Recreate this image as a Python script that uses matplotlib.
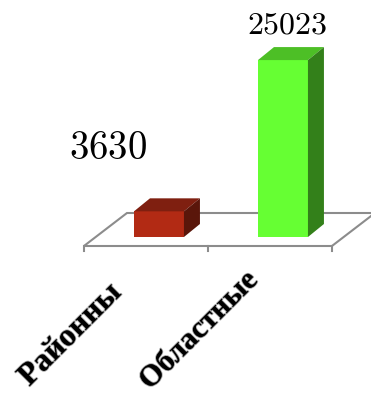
import matplotlib.pyplot as plt
from matplotlib.patches import Polygon
import matplotlib.patheffects as pe

categories = ['Районны', 'Областные']
values = [3630, 25023]
front_colors = ['#b22a14', '#66ff33']
top_colors = ['#7f1f10', '#4dbf26']
side_colors = ['#5a160a', '#33801a']

plt.rcParams['mathtext.fontset'] = 'cm'

fig = plt.figure(figsize=(3.71, 3.97), dpi=100)
ax = fig.add_axes([0, 0, 1, 1])
ax.set_xlim(-1.282, 1.710)
ax.set_ylim(-22631, 33522)
ax.axis('off')

# 3d-ish offsets in data units
bw = 0.403
bdx, bdy = 0.129, 1840      # bar depth
fdx, fdy = 0.347, 4668      # floor depth
f0 = -1273                  # floor front edge
fl, fr = -0.605, 1.395

floor = Polygon([(fl, f0), (fr, f0), (fr + fdx, f0 + fdy), (fl + fdx, f0 + fdy)],
                closed=True, facecolor='white', edgecolor='#8c8c8c', lw=1.5, zorder=1)
ax.add_patch(floor)
for tx in [fl, (fl + fr) / 2, fr]:
    ax.plot([tx, tx], [f0, f0 - 707], color='#8c8c8c', lw=1.5, zorder=1)

bars = ax.bar(range(len(values)), values, width=bw, color=front_colors, zorder=3)
for i, v in enumerate(values):
    x0, x1 = i - bw / 2, i + bw / 2
    ax.add_patch(Polygon([(x0, v), (x1, v), (x1 + bdx, v + bdy), (x0 + bdx, v + bdy)],
                         closed=True, facecolor=top_colors[i], edgecolor='none', zorder=3))
    ax.add_patch(Polygon([(x1, 0), (x1 + bdx, bdy), (x1 + bdx, v + bdy), (x1, v)],
                         closed=True, facecolor=side_colors[i], edgecolor='none', zorder=3))

label_offsets = [(-51, 89), (4, 212)]
label_sizes = [28, 23]
for i, v in enumerate(values):
    ax.annotate('$%d$' % v, xy=(i, 0), xytext=label_offsets[i], textcoords='offset pixels',
                ha='center', va='center', fontsize=label_sizes[i], color='black')

cat_offsets = [(-52, -41), (-40, -29)]
cat_sizes = [23, 22]
for i, c in enumerate(categories):
    ax.annotate(c, xy=(i, 0), xytext=cat_offsets[i], textcoords='offset pixels',
                ha='right', va='top', rotation=45, rotation_mode='anchor',
                fontsize=cat_sizes[i], fontweight='bold', family='Liberation Serif', color='black',
                path_effects=[pe.withStroke(linewidth=1.2, foreground='#aaaaaa')])

fig.savefig('out.png', dpi=100)
